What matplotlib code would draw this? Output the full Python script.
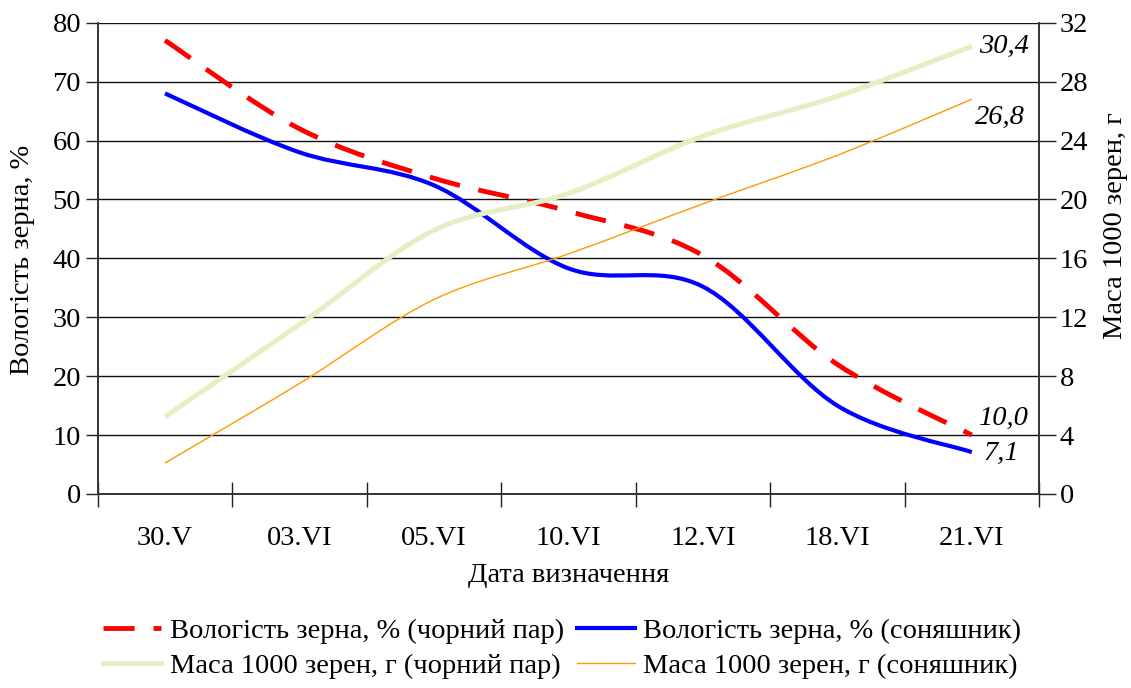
import matplotlib
matplotlib.use("Agg")
import matplotlib.pyplot as plt
import numpy as np
from matplotlib.lines import Line2D
from matplotlib.path import Path
from matplotlib.patches import PathPatch

plt.rcParams["font.family"] = ["Liberation Serif", "DejaVu Serif"]

dates = ["30.V", "03.VI", "05.VI", "10.VI", "12.VI", "18.VI", "21.VI"]
moist_fallow = [77.0, 62.0, 53.6, 48.0, 40.5, 22.0, 10.0]
moist_sunflower = [68.0, 58.0, 52.4, 38.3, 35.2, 15.0, 7.1]
mass_fallow = [5.25, 11.5, 17.9, 20.4, 24.3, 27.0, 30.4]
mass_sunflower = [2.1, 7.5, 13.2, 16.3, 19.7, 23.0, 26.8]

end_labels = ["10,0", "7,1", "30,4", "26,8"]
legend_names = [
    "Вологість зерна, % (чорний пар)",
    "Вологість зерна, % (соняшник)",
    "Маса 1000 зерен, г (чорний пар)",
    "Маса 1000 зерен, г (соняшник)",
]

FS = 20.5
RED_DASH = (0, (6.4, 3.9))


def smooth_path(xs, ys):
    # Excel-like smoothed line: cubic Bezier segments through every point
    pts = np.column_stack([xs, ys]).astype(float)
    n = len(pts)
    verts = [pts[0]]
    codes = [Path.MOVETO]
    for i in range(n - 1):
        p_prev = pts[max(i - 1, 0)]
        p0 = pts[i]
        p1 = pts[i + 1]
        p_next = pts[min(i + 2, n - 1)]
        c1 = p0 + (p1 - p_prev) / 6.0
        c2 = p1 - (p_next - p0) / 6.0
        verts += [c1, c2, p1]
        codes += [Path.CURVE4] * 3
    return Path(verts, codes)


fig = plt.figure(figsize=(11.31, 6.88), dpi=100)
ax = fig.add_axes([0.0864, 0.282, 0.8323, 0.685])
ax2 = ax.twinx()

x = np.arange(len(dates))

ax.add_patch(PathPatch(smooth_path(x, moist_sunflower), fill=False,
                       edgecolor="#0000FF", lw=3.0, zorder=3, capstyle="butt"))
ax.add_patch(PathPatch(smooth_path(x, moist_fallow), fill=False,
                       edgecolor="#FF0000", lw=3.5, linestyle=RED_DASH,
                       zorder=4, capstyle="butt"))
ax2.add_patch(PathPatch(smooth_path(x, mass_fallow), fill=False,
                        edgecolor="#E4EFC3", lw=3.6, zorder=3))
ax2.add_patch(PathPatch(smooth_path(x, mass_sunflower), fill=False,
                        edgecolor="#FF9900", lw=1.0, zorder=3))

ax.set_xlim(-0.5, len(dates) - 0.5)
ax.set_ylim(0, 80)
ax2.set_ylim(0, 32)
ax.set_yticks(np.arange(0, 81, 10))
ax2.set_yticks(np.arange(0, 33, 4))
ax.set_xticks(x)
ax.set_xticklabels(dates)
ax.set_xticks(np.arange(-0.5, len(dates), 1.0), minor=True)
ax.tick_params(axis="x", which="major", length=0, pad=23, labelsize=FS)
ax.tick_params(axis="x", which="minor", direction="inout", length=18,
               width=1, color="#222222")
ax.tick_params(axis="y", direction="out", length=9, width=1, pad=3,
               labelsize=FS, color="#222222")
ax2.tick_params(axis="y", direction="out", length=12, width=1, pad=3,
                labelsize=FS, color="#222222")

ax.grid(axis="y", color="#111111", lw=1.0)
ax.set_axisbelow(True)
for a in (ax, ax2):
    a.spines["top"].set_visible(False)
    for s in ("left", "right", "bottom"):
        a.spines[s].set_color("#333333")
        a.spines[s].set_linewidth(1.2)

ax.set_xlabel("Дата визначення", fontsize=FS)
ax.xaxis.set_label_coords(0.5, -0.172)
ax.xaxis.label.set_verticalalignment("center")
ax.set_ylabel("Вологість зерна, %", fontsize=FS)
ax.yaxis.set_label_coords(-0.0804, 0.496)
ax.yaxis.label.set_verticalalignment("center")
ax2.set_ylabel("Маса 1000 зерен, г", fontsize=FS)
ax2.yaxis.set_label_coords(1.0807, 0.569)
ax2.yaxis.label.set_verticalalignment("center")

last = len(dates) - 1
ax.annotate(end_labels[0], (x[last], moist_fallow[-1]), xytext=(5, 12),
            textcoords="offset points", fontsize=FS, style="italic",
            va="center", ha="left")
ax.annotate(end_labels[1], (x[last], moist_sunflower[-1]), xytext=(8, -1),
            textcoords="offset points", fontsize=FS, style="italic",
            va="center", ha="left")
ax2.annotate(end_labels[2], (x[last], mass_fallow[-1]), xytext=(5, 0),
             textcoords="offset points", fontsize=FS, style="italic",
             va="center", ha="left")
ax2.annotate(end_labels[3], (x[last], mass_sunflower[-1]), xytext=(2, -13),
             textcoords="offset points", fontsize=FS, style="italic",
             va="center", ha="left")

# legend fills column-wise, so order entries to get red/blue on the first row
handles = [
    Line2D([], [], color="#FF0000", lw=3.5, linestyle=RED_DASH),
    Line2D([], [], color="#E4EFC3", lw=3.6),
    Line2D([], [], color="#0000FF", lw=3.0),
    Line2D([], [], color="#FF9900", lw=1.0),
]
names = [legend_names[0], legend_names[2], legend_names[1], legend_names[3]]
fig.legend(handles, names, loc="lower center", ncol=2,
           bbox_to_anchor=(0.497, -0.012), frameon=False, fontsize=FS,
           handlelength=2.05, handletextpad=0.3, columnspacing=0.45,
           labelspacing=0.33, borderaxespad=0.2)

fig.savefig("out.png", dpi=100)
